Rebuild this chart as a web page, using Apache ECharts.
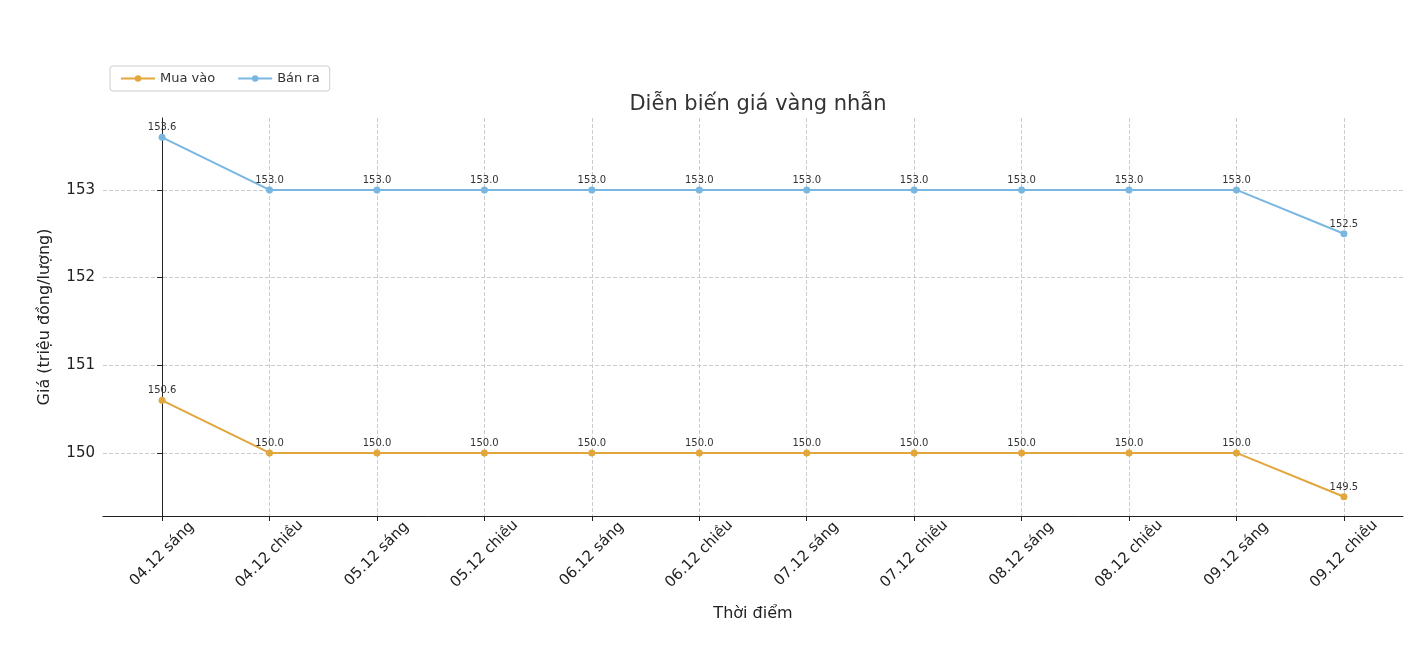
<!DOCTYPE html>
<html><head><meta charset="utf-8">
<script src="https://cdn.jsdelivr.net/npm/echarts@6/dist/echarts.min.js"></script>
<style>html,body{margin:0;background:#fff}#c{width:1420px;height:656px}</style>
</head><body><div id="c"></div>
<script>
var categories = ['04.12 sáng','04.12 chiều','05.12 sáng','05.12 chiều','06.12 sáng','06.12 chiều','07.12 sáng','07.12 chiều','08.12 sáng','08.12 chiều','09.12 sáng','09.12 chiều'];
var muaVao = [150.6,150.0,150.0,150.0,150.0,150.0,150.0,150.0,150.0,150.0,150.0,149.5];
var banRa = [153.6,153.0,153.0,153.0,153.0,153.0,153.0,153.0,153.0,153.0,153.0,152.5];
var yTicks = [150,151,152,153];
var xTicks = categories.map(function(c, i){ return i; });

var font = 'DejaVu Sans';
var myChart = echarts.init(document.getElementById('c'));
function mk(name, data, color){
	return {
		name: name, type: 'line', symbol: 'circle', symbolSize: 7,
		data: data.map(function(v, i){ return [i, v]; }),
		itemStyle: {color: color}, lineStyle: {color: color, width: 2},
		label: {show: true, position: 'top', distance: 1, fontSize: 10, color: '#333', fontFamily: font,
			formatter: function(p){ return p.value[1].toFixed(1); }}
	};
}
var option = {
	animation: false,
	title: {text: 'Diễn biến giá vàng nhẫn', left: 753, top: 89, textAlign: 'center',
		textStyle: {fontSize: 21, fontWeight: 'normal', color: '#333', fontFamily: font}},
	legend: {left: 110, top: 66, itemWidth: 34, itemHeight: 8, itemGap: 22,
		borderColor: '#ccc', borderWidth: 1, borderRadius: 3, padding: [6, 10],
		textStyle: {fontSize: 13, color: '#333', fontFamily: font},
		data: ['Mua vào', 'Bán ra']},
	grid: {left: 103, right: 17, top: 118, bottom: 140},
	xAxis: {
		type: 'value', min: -0.55, max: 11.55,
		name: 'Thời điểm', nameLocation: 'middle', nameGap: 90,
		nameTextStyle: {fontSize: 16, color: '#222', fontFamily: font},
		axisLine: {lineStyle: {color: '#222'}},
		axisTick: {show: true, customValues: xTicks, lineStyle: {color: '#222'}},
		axisLabel: {customValues: xTicks, rotate: 45, align: 'center', verticalAlign: 'middle', margin: 38,
			fontSize: 15, color: '#222', fontFamily: font,
			formatter: function(v){ return categories[Math.round(v)]; }},
		splitLine: {show: true, lineStyle: {type: 'dashed', color: '#ccc'}}
	},
	yAxis: {
		type: 'value', min: 149.28, max: 153.82,
		name: 'Giá (triệu đồng/lượng)', nameLocation: 'middle', nameGap: 50,
		nameTextStyle: {fontSize: 16, color: '#222', fontFamily: font},
		axisLine: {show: true, lineStyle: {color: '#222'}},
		axisTick: {show: true, customValues: yTicks, lineStyle: {color: '#222'}},
		axisLabel: {customValues: yTicks, fontSize: 15, color: '#222', fontFamily: font},
		splitLine: {show: true, lineStyle: {type: 'dashed', color: '#ccc'}}
	},
	series: [mk('Mua vào', muaVao, '#E1A63C'), mk('Bán ra', banRa, '#79B7E1')]
};
myChart.setOption(option, true);
</script></body></html>
